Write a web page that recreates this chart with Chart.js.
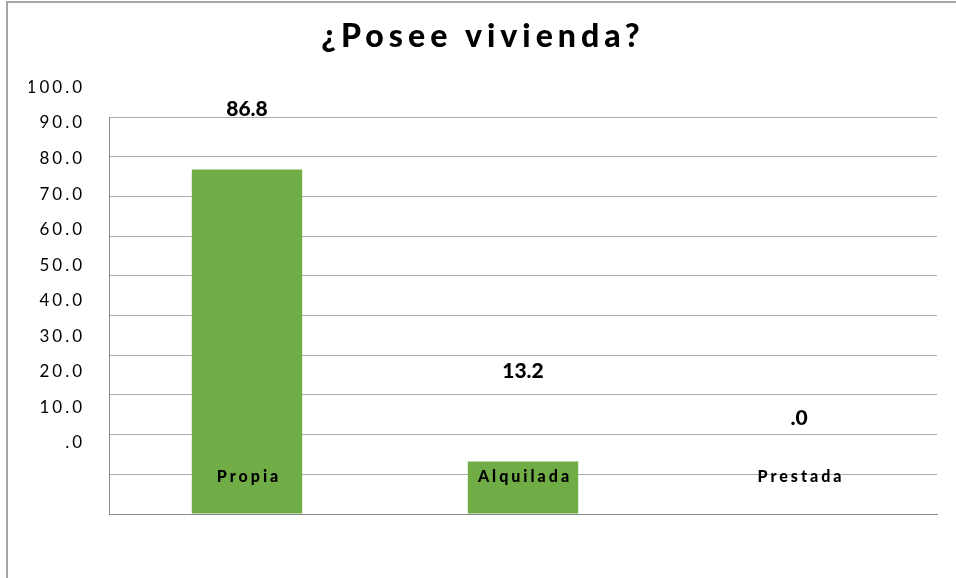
<!DOCTYPE html>
<html><head><meta charset="utf-8">
<script src="https://cdn.jsdelivr.net/npm/chart.js@4"></script>
<style>
html,body{margin:0;padding:0;background:#fff;}
#wrap{position:relative;width:956px;height:578px;overflow:hidden;}
#frame{position:absolute;left:6px;top:1px;right:-4px;bottom:-4px;border-top:2px solid #a6a6a6;border-left:2px solid #a6a6a6;pointer-events:none;}
canvas{display:block;}
</style></head><body>
<div id="wrap"><canvas id="c" width="956" height="578"></canvas><div id="frame"></div></div>
<script>
const titleText = '¿Posee vivienda?';
const categories = ['Propia', 'Alquilada', 'Prestada'];
const values = [86.8, 13.2, 0.0];
const gridValues = [0, 10, 20, 30, 40, 50, 60, 70, 80, 90, 100];

const fmt = v => { const s = Number(v).toFixed(1); return s.startsWith('0') ? s.slice(1) : s; };

function withSpacing(ctx, sp, fn) {
  const prev = ctx.letterSpacing;
  try { ctx.letterSpacing = sp; } catch (e) {}
  fn();
  try { ctx.letterSpacing = prev; } catch (e) {}
}

const overlay = {
  id: 'overlay',
  afterLayout(chart) {
    const s = chart.scales.y2;
    if (s && !s._patched) {
      const orig = s.drawLabels.bind(s);
      s.drawLabels = function (ca) { withSpacing(this.ctx, '3px', () => orig(ca)); };
      s._patched = true;
    }
    const t = chart.titleBlock;
    if (t && !t._patched) {
      const o = t.draw.bind(t);
      t.draw = function () { withSpacing(this.ctx, '5px', () => o()); };
      t._patched = true;
    }
  },
  afterDatasetsDraw(chart) {
    const { ctx, chartArea, scales: { x, y, y2 } } = chart;
    ctx.save();
    ctx.strokeStyle = '#8c8c8c';
    ctx.lineWidth = 1;
    const lx = Math.round(chartArea.left) + 0.5;
    ctx.beginPath();
    ctx.moveTo(lx, y.getPixelForValue(gridValues[gridValues.length - 1]));
    ctx.lineTo(lx, y.getPixelForValue(gridValues[0]));
    ctx.stroke();
    ctx.fillStyle = '#000';
    ctx.textAlign = 'center';
    ctx.textBaseline = 'middle';
    ctx.font = '900 21px Lato';
    values.forEach((v, i) => {
      ctx.fillText(fmt(v), x.getPixelForValue(i), y2.getPixelForValue(v) - 25);
    });
    ctx.font = '900 16px Lato';
    withSpacing(ctx, '3px', () => {
      categories.forEach((c, i) => {
        ctx.fillText(c, x.getPixelForValue(i) + 2, y.getPixelForValue(0) - 37);
      });
    });
    ctx.restore();
  }
};

new Chart(document.getElementById('c'), {
  type: 'bar',
  data: {
    labels: categories,
    datasets: [{
      data: values,
      backgroundColor: '#70ad47',
      categoryPercentage: 1,
      barPercentage: 0.4,
      yAxisID: 'y'
    }]
  },
  options: {
    responsive: false,
    animation: false,
    devicePixelRatio: 1,
    layout: { padding: { left: 29, right: 19, top: 0, bottom: 64 } },
    plugins: {
      legend: { display: false },
      tooltip: { enabled: false },
      title: {
        display: true,
        text: titleText,
        color: '#000',
        font: { family: 'Lato', size: 32, weight: '900' },
        padding: { top: 17, bottom: 32 }
      }
    },
    scales: {
      x: {
        grid: { display: false, drawTicks: false },
        border: { display: true, color: '#8c8c8c' },
        ticks: { display: false }
      },
      y: {
        position: 'left',
        min: 0,
        max: 107.5,
        ticks: { display: false, stepSize: 10, includeBounds: false },
        grid: { drawTicks: false, color: ctx => (gridValues.includes(ctx.tick && ctx.tick.value) ? '#ababab' : 'rgba(0,0,0,0)') },
        border: { display: false },
        afterFit(s) { s.width = 0; }
      },
      y2: {
        position: 'left',
        min: -20,
        max: 100,
        ticks: {
          stepSize: 10,
          includeBounds: false,
          padding: 24,
          color: '#000',
          font: { family: 'Lato', size: 17 },
          callback: v => (v >= 0 ? fmt(v) : '')
        },
        grid: { display: false, drawTicks: false },
        border: { display: false },
        afterFit(s) { s.width = 80; }
      }
    }
  },
  plugins: [overlay]
});
</script>
</body></html>
